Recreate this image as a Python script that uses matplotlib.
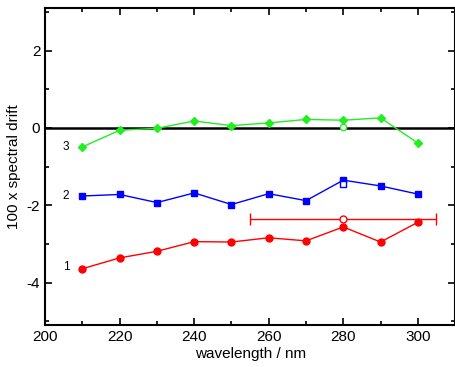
import numpy as np
import matplotlib.pyplot as plt
from matplotlib.ticker import MultipleLocator

plt.rcParams['font.family'] = ['Liberation Sans', 'DejaVu Sans']
plt.rcParams['axes.unicode_minus'] = False

# data
wl = [210, 220, 230, 240, 250, 260, 270, 280, 290, 300]
drift_1 = [-3.64, -3.36, -3.19, -2.94, -2.95, -2.84, -2.92, -2.56, -2.95, -2.44]
drift_2 = [-1.76, -1.72, -1.93, -1.68, -1.98, -1.70, -1.88, -1.35, -1.50, -1.71]
drift_3 = [-0.49, -0.06, -0.01, 0.18, 0.06, 0.13, 0.22, 0.20, 0.26, -0.39]
# open markers at 280 nm
open_x = 280
open_1, open_1_xerr = -2.35, 25
open_2 = -1.46
open_3 = 0.03
curve_labels = ['1', '2', '3']
label_y = [-3.6, -1.75, -0.5]

fig = plt.figure(figsize=(4.56, 3.67), dpi=100)
ax = fig.add_axes([0.099, 0.114, 0.899, 0.864])

ax.axhline(0, color='black', lw=1.8, zorder=1)

ax.plot(wl, drift_1, color='#ff0000', marker='o', ms=5, lw=1, zorder=3)
ax.plot(wl, drift_2, color='#0000ff', marker='s', ms=5, lw=1, zorder=3)
ax.plot(wl, drift_3, color='#22ee22', marker='D', ms=4.5, lw=1, zorder=3)

ax.errorbar(open_x, open_1, xerr=open_1_xerr, color='#ff0000', marker='o', ms=5,
            mfc='white', lw=1, capsize=4, zorder=4)
ax.plot(open_x, open_2, marker='s', ms=5, mfc='white', mec='#0000ff', ls='none', zorder=4)
ax.plot(open_x, open_3, marker='o', ms=4.5, mfc='white', mec='#22ee22', ls='none', zorder=4)

for t, y in zip(curve_labels, label_y):
    ax.text(206.5, y, t, fontsize=8.5, ha='right', va='center')

ax.set_xlim(200, 310)
ax.set_ylim(-5.1, 3.1)
ax.xaxis.set_major_locator(MultipleLocator(20))
ax.xaxis.set_minor_locator(MultipleLocator(10))
ax.yaxis.set_major_locator(MultipleLocator(2))
ax.yaxis.set_minor_locator(MultipleLocator(1))
ax.tick_params(which='both', direction='in', top=True, right=True, labelsize=11, width=1.2)
ax.tick_params(which='major', length=5)
ax.tick_params(which='minor', length=3)
for s in ax.spines.values():
    s.set_linewidth(1.5)

ax.set_xlabel('wavelength / nm', fontsize=11, labelpad=2)
ax.set_ylabel('100 x spectral drift', fontsize=11, labelpad=4)

fig.savefig('out.png', dpi=100)
